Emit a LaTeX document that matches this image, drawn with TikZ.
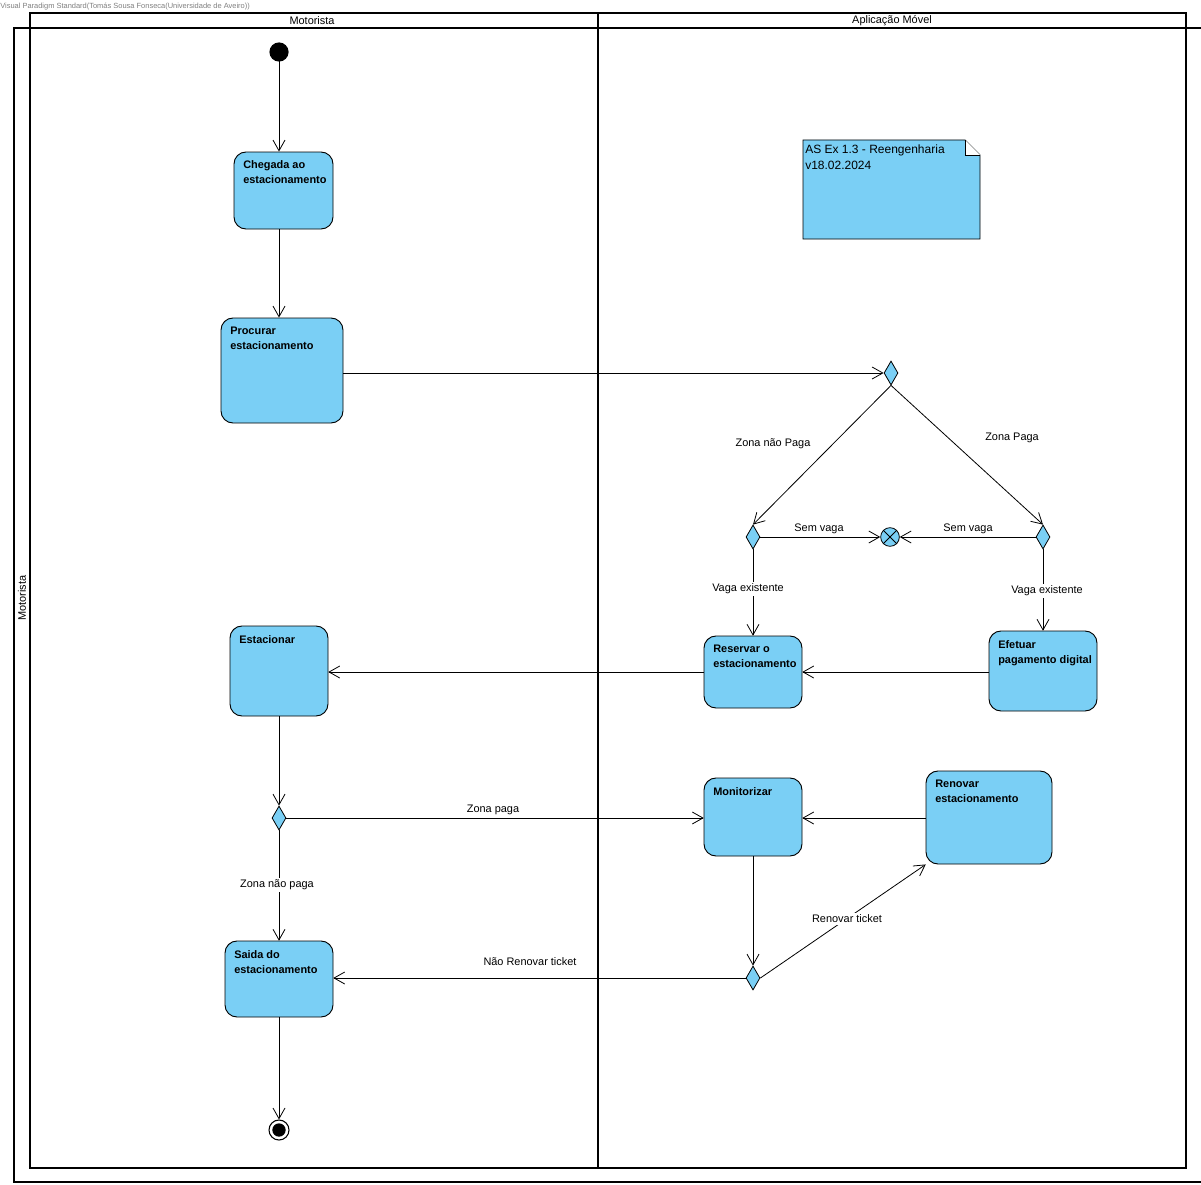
\documentclass[tikz,border=0pt]{standalone}
\usepackage{fontspec}
\setmainfont{Liberation Sans}
\usetikzlibrary{arrows.meta,shapes.geometric}
\definecolor{actfill}{HTML}{7ACFF5}
\tikzset{
  x=0.75pt, y=-0.75pt,
  every node/.style={font=\fontsize{8.2}{11}\selectfont, inner sep=0pt},
  frameline/.style={line width=1.4pt, draw=black},
  act/.style={draw=black, line width=0.7pt, fill=actfill, rounded corners=9pt},
  acttext/.style={anchor=north west, align=left, font=\fontsize{8.2}{11.2}\selectfont\bfseries},
  decision/.style={diamond, draw=black, line width=0.6pt, fill=actfill, minimum width=10.5pt, minimum height=18pt, aspect=0.55, inner sep=0pt},
  flow/.style={draw=black, line width=0.6pt, -{Straight Barb[length=8pt, width=9pt, line width=0.6pt]}},
  lbl/.style={font=\fontsize{8.2}{10}\selectfont, fill=white, inner sep=1.5pt},
}
\begin{document}
\begin{tikzpicture}
\useasboundingbox (0,0) rectangle (1201,1184);
\fill[white] (0,0) rectangle (1201,1184);

% watermark
\node[anchor=north west, text=gray, font=\fontsize{5.6}{6}\selectfont] (wm) at (0,3) {Visual Paradigm Standard(Tomás Sousa Fonseca(Universidade de Aveiro))};

% pool frame and swimlanes
\draw[frameline] (14,28) rectangle (1210,1182);
\draw[frameline] (30,13) rectangle (1186,1168);
\draw[frameline] (30,28) -- (1186,28);
\draw[frameline] (598,13) -- (598,1168);
\node (lane1) at (312,21) {Motorista};
\node (lane2) at (892,21) {Aplicação Móvel};
\node[rotate=90] (pool) at (22,598) {Motorista};

% note
\draw[line width=0.7pt, fill=actfill] (803,140) -- (965,140) -- (980,155) -- (980,239) -- (803,239) -- cycle;
\fill[white] (965,140) -- (980,155) -- (965,155) -- cycle;
\draw[line width=0.7pt] (965,140) -- (965,155) -- (980,155);
\node[anchor=north west, align=left, font=\fontsize{9}{11.5}\selectfont] (note) at (805,145) {AS Ex 1.3 - Reengenharia\\v18.02.2024};

% initial and final nodes
\fill (279,52) circle[radius=7.2pt] coordinate (start);
\node[circle, minimum size=15pt, draw=black, line width=0.8pt, fill=white] (end) at (279,1130) {};
\fill (279,1130) circle[radius=5pt];

% actions
\draw[act] (234,152) rectangle (333,229);
\node (chegada) at (283.5,190.5) [minimum width=74pt, minimum height=58pt] {};
\node[acttext] at (243,160) {Chegada ao\\estacionamento};

\draw[act] (221,318) rectangle (343,423);
\node (procurar) at (282,370.5) [minimum width=91.5pt, minimum height=79pt] {};
\node[acttext] at (230,327) {Procurar\\estacionamento};

\draw[act] (230,626) rectangle (328,716);
\node (estacionar) at (279,671) [minimum width=73.5pt, minimum height=67.5pt] {};
\node[acttext] at (239,635) {Estacionar};

\draw[act] (225,941) rectangle (333,1017);
\node (saida) at (279,979) [minimum width=81pt, minimum height=57pt] {};
\node[acttext] at (234,950) {Saida do\\estacionamento};

\draw[act] (704,636) rectangle (802,708);
\node (reservar) at (753,672) [minimum width=73.5pt, minimum height=54pt] {};
\node[acttext] at (713,645) {Reservar o\\estacionamento};

\draw[act] (989,631) rectangle (1097,711);
\node (efetuar) at (1043,671) [minimum width=81pt, minimum height=60pt] {};
\node[acttext] at (998,640) {Efetuar\\pagamento digital};

\draw[act] (704,778) rectangle (802,856);
\node (monitorizar) at (753,817) [minimum width=73.5pt, minimum height=58.5pt] {};
\node[acttext] at (713,787) {Monitorizar};

\draw[act] (926,771) rectangle (1052,864);
\node (renovar) at (989,817.5) [minimum width=94.5pt, minimum height=70pt] {};
\node[acttext] at (935,780) {Renovar\\estacionamento};

% decisions
\node[decision] (d1) at (891,373) {};
\node[decision] (d2) at (753,537) {};
\node[decision] (d3) at (1043,537) {};
\node[decision] (d4) at (279,818) {};
\node[decision] (d5) at (753,978) {};

% flow final
\node[circle, draw=black, line width=0.6pt, fill=actfill, minimum size=14pt] (ff) at (890,537) {};
\draw[line width=0.6pt] (ff.north west) -- (ff.south east) (ff.north east) -- (ff.south west);

% flows
\draw[flow] (start) -- (start |- chegada.north);
\draw[flow] (chegada.south -| start) -- (procurar.north -| start);
\draw[flow] (procurar.east |- d1) -- (d1.west);
\draw[flow] (d1.south) -- (d2.north);
\draw[flow] (d1.south) -- (d3.north);
\draw[flow] (d2.east) -- (ff.west);
\draw[flow] (d3.west) -- (ff.east);
\draw[flow] (d2.south) -- (reservar.north);
\draw[flow] (d3.south) -- (efetuar.north);
\draw[flow] (efetuar.west |- reservar) -- (reservar.east);
\draw[flow] (reservar.west) -- (estacionar.east |- reservar);
\draw[flow] (estacionar.south) -- (d4.north);
\draw[flow] (d4.east) -- (monitorizar.west |- d4);
\draw[flow] (d4.south) -- (saida.north);
\draw[flow] (renovar.west |- d4) -- (monitorizar.east |- d4);
\draw[flow] (monitorizar.south) -- (d5.north);
\draw[flow] (d5.east) -- (renovar.south west);
\draw[flow] (d5.west) -- (saida.east |- d5);
\draw[flow] (saida.south) -- (end.north);

% labels
\node[lbl] (l1) at (773,444) {Zona não Paga};
\node[lbl] (l2) at (1012,438) {Zona Paga};
\node[lbl] (l3) at (819,529) {Sem vaga};
\node[lbl] (l4) at (968,529) {Sem vaga};
\node[lbl] (l5) at (748,589) {Vaga existente};
\node[lbl] (l6) at (1047,591) {Vaga existente};
\node[lbl] (l7) at (493,810) {Zona paga};
\node[lbl] (l8) at (277,885) {Zona não paga};
\node[lbl] (l9) at (847,919) {Renovar ticket};
\node[lbl] (l10) at (530,962) {Não Renovar ticket};
\end{tikzpicture}
\end{document}
